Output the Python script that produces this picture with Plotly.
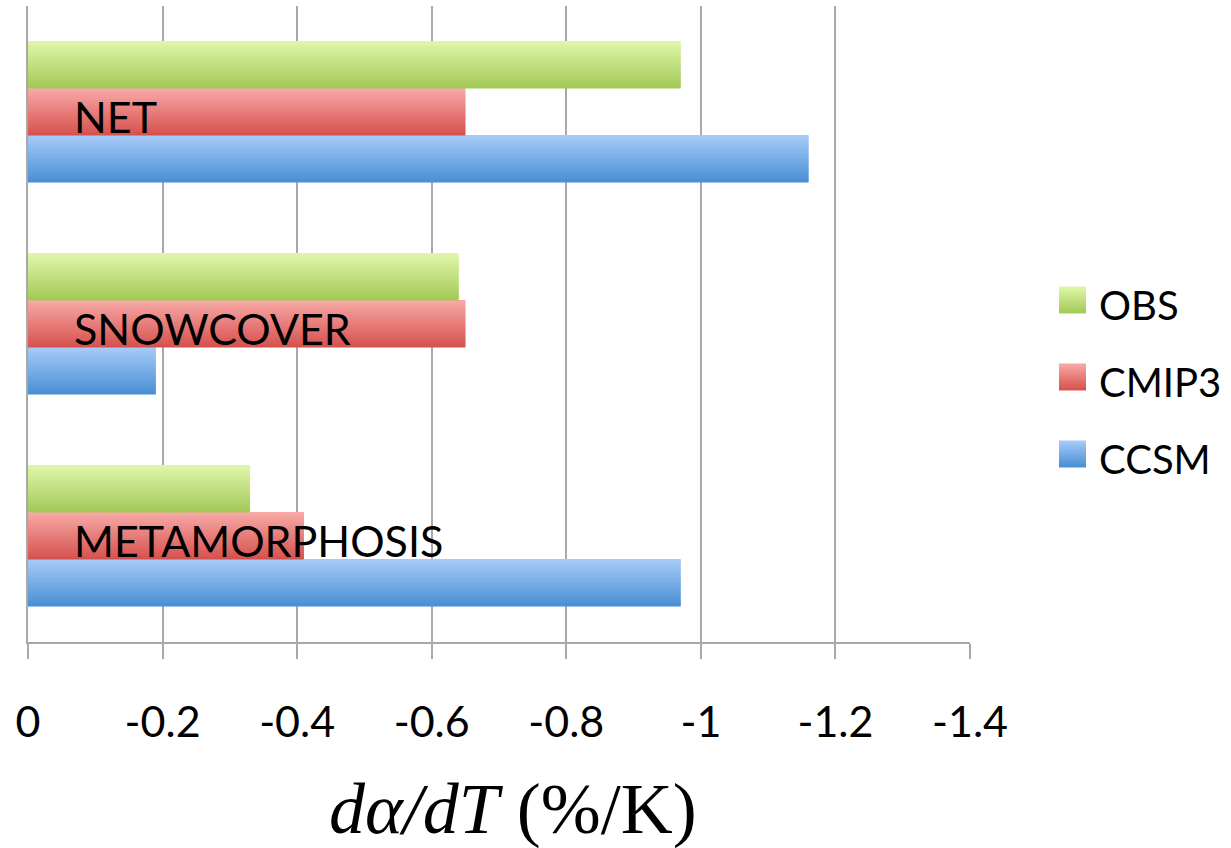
import plotly.graph_objects as go

# Albedo feedback components, d(alpha)/dT in %/K
categories = ["METAMORPHOSIS", "SNOWCOVER", "NET"]  # bottom -> top
series_names = ["CCSM", "CMIP3", "OBS"]             # bottom -> top inside each group
ccsm = [-0.97, -0.19, -1.16]
cmip3 = [-0.41, -0.65, -0.65]
obs = [-0.33, -0.64, -0.97]
tick_vals = [0, -0.2, -0.4, -0.6, -0.8, -1.0, -1.2, -1.4]
tick_text = ["0", "-0.2", "-0.4", "-0.6", "-0.8", "-1", "-1.2", "-1.4"]

values = {"CCSM": ccsm, "CMIP3": cmip3, "OBS": obs}
# (top colour, bottom colour) for the vertical gradient of each series
gradients = {
    "OBS": ((224, 247, 170), (162, 200, 86)),
    "CMIP3": ((248, 170, 167), (213, 80, 76)),
    "CCSM": ((166, 203, 248), (72, 142, 212)),
}

# layout geometry (pixels)
W, H = 1231, 848
L, R, T, B = 28, 970, 6, 642
PW, PH = R - L, B - T
grid = "#a9a9a9"


def px_x(p):
    return (p - L) / PW


def px_y(p):
    return (B - p) / PH


def mix(c1, c2, t):
    return "rgb(%d,%d,%d)" % tuple(round(a + (b - a) * t) for a, b in zip(c1, c2))


fig = go.Figure()

ypos = list(range(len(categories)))
bar_w = 0.222
n_strips = 40
group_start = -1.5 * bar_w

# each bar is built from thin horizontal strips to give a smooth vertical gradient
for si, name in enumerate(series_names):
    top, bottom = gradients[name]
    base = group_start + si * bar_w
    sw = bar_w / n_strips
    for k in range(n_strips):
        t = (k + 0.5) / n_strips  # 0 at bottom, 1 at top
        fig.add_trace(go.Bar(
            y=ypos, x=values[name], orientation="h",
            base=0,
            offset=base + k * sw, width=sw * 1.8 if k < n_strips - 1 else sw,
            marker=dict(color=mix(bottom, top, t), line=dict(width=0)),
            showlegend=False, hoverinfo="skip" if k else "x+name",
            name=name,
        ))

annotations = []
shapes = []

# category labels, written over the bars
for yi, cat in zip(ypos, categories):
    annotations.append(dict(
        x=px_x(72), xref="paper", xanchor="left",
        y=yi, yref="y", yanchor="middle", yshift=-4,
        text=cat, showarrow=False,
        font=dict(family="Lato", size=43, color="black"),
    ))

# legend: gradient swatches with labels
legend_rows = [("OBS", 300), ("CMIP3", 377), ("CCSM", 454)]
sq = 27
for name, cy in legend_rows:
    top, bottom = gradients[name]
    n = 9
    for k in range(n):
        y0 = cy - sq / 2 + k * sq / n
        y1 = y0 + sq / n + 0.6
        shapes.append(dict(
            type="rect", xref="paper", yref="paper",
            x0=px_x(1059), x1=px_x(1059 + sq),
            y0=px_y(min(y1, cy + sq / 2)), y1=px_y(y0),
            fillcolor=mix(top, bottom, (k + 0.5) / n), line=dict(width=0), layer="above",
        ))
    annotations.append(dict(
        x=px_x(1097), xref="paper", xanchor="left",
        y=px_y(cy + 5), yref="paper", yanchor="middle",
        text=name, showarrow=False,
        font=dict(family="Lato", size=40, color="black"),
    ))

# axis title
annotations.append(dict(
    x=px_x(513), xref="paper", xanchor="center",
    y=px_y(809), yref="paper", yanchor="middle",
    text="<i>dα/dT</i> (%/K)", showarrow=False,
    font=dict(family="Liberation Serif", size=72, color="black"),
))

fig.update_layout(
    width=W, height=H,
    margin=dict(l=L, r=W - R, t=T, b=H - B, pad=0),
    paper_bgcolor="white", plot_bgcolor="white",
    barmode="overlay",
    showlegend=False,
    annotations=annotations,
    shapes=shapes,
    xaxis=dict(
        range=[0, -1.4], tickvals=tick_vals, ticktext=tick_text,
        showgrid=True, gridcolor=grid, gridwidth=2,
        zeroline=False,
        showline=True, linecolor=grid, linewidth=2,
        ticks="outside", ticklen=15, tickcolor=grid, tickwidth=2,
        ticklabelstandoff=26,
        tickfont=dict(family="Lato", size=43, color="black"),
    ),
    yaxis=dict(
        range=[-0.5, 2.5], showticklabels=False, showgrid=False,
        zeroline=False, showline=True, linecolor=grid, linewidth=2, ticks="",
    ),
)

fig.write_html("out.html")
